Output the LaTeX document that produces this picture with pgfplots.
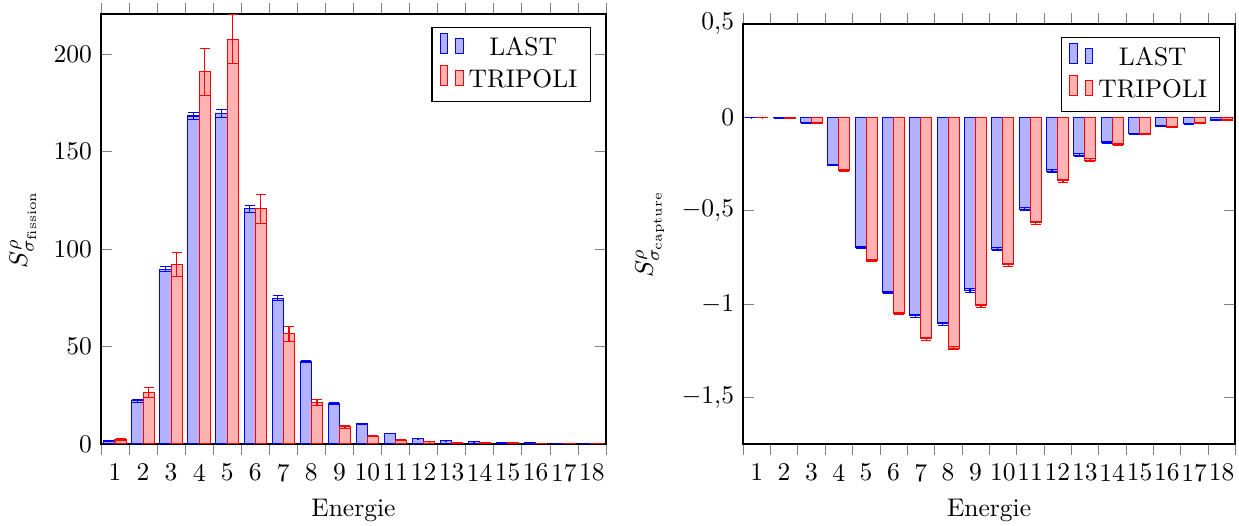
\documentclass[border=0pt]{standalone}
\usepackage{pgfplots}
\pgfplotsset{compat=1.18}
\begin{document}
\begin{tikzpicture}
\pgfplotsset{
  sensbase/.style={
    scale only axis,
    ybar=0pt,
    bar width=0.4,
    xmin=0.5, xmax=18.5,
    xtick={0.5,1.5,...,18.5},
    xticklabels={1,2,3,4,5,6,7,8,9,10,11,12,13,14,15,16,17,18},
    x tick label as interval,
    xtick align=outside,
    tick style={black!50},
    axis line style={line width=0.65pt},
    xlabel={Energie},
    legend cell align=center,
    legend style={at={(0.97,0.97)},anchor=north east},
    /pgf/number format/use comma,
  },
  lastbar/.style={draw=blue, fill=blue!30,
    error bars/.cd, y dir=both, y explicit, error bar style={blue, line width=0.5pt}},
  tripbar/.style={draw=red, fill=red!30,
    error bars/.cd, y dir=both, y explicit, error bar style={red, line width=0.5pt}},
}
\begin{axis}[sensbase,
  width=198pt, height=168.6pt,
  ymin=0, ymax=220.5,
  ytick={0,50,100,150,200},
  ylabel={$S^{\rho}_{\sigma_{\mathrm{fission}}}$},
]
\addplot[lastbar] coordinates {
(1,1.6) +- (0,0.2)
(2,22.1) +- (0,0.9)
(3,89.5) +- (0,1.3)
(4,168.2) +- (0,1.8)
(5,169.4) +- (0,2.0)
(6,120.6) +- (0,1.8)
(7,74.8) +- (0,1.1)
(8,42.3) +- (0,0.6)
(9,20.8) +- (0,0.4)
(10,10.4) +- (0,0.3)
(11,5.4) +- (0,0.2)
(12,2.7) +- (0,0.1)
(13,1.7) +- (0,0.1)
(14,1.2) +- (0,0.05)
(15,0.8) +- (0,0.05)
(16,0.6) +- (0,0.05)
(17,0.4) +- (0,0.05)
(18,0.4) +- (0,0.05)
};
\addplot[tripbar] coordinates {
(1,2.3) +- (0,0.3)
(2,26.2) +- (0,2.6)
(3,92.1) +- (0,6.1)
(4,190.8) +- (0,12.0)
(5,207.5) +- (0,12.6)
(6,120.6) +- (0,7.5)
(7,56.5) +- (0,3.8)
(8,21.3) +- (0,1.5)
(9,8.7) +- (0,0.7)
(10,3.9) +- (0,0.3)
(11,2.0) +- (0,0.2)
(12,1.2) +- (0,0.1)
(13,0.8) +- (0,0.05)
(14,0.6) +- (0,0.05)
(15,0.5) +- (0,0.05)
(16,0.4) +- (0,0.05)
(17,0.3) +- (0,0.05)
(18,0.2) +- (0,0.05)
};
\legend{LAST,TRIPOLI}
\end{axis}
\begin{axis}[sensbase,
  at={(251.8pt,0pt)},
  width=193pt, height=164.7pt,
  ymin=-1.75, ymax=0.5,
  ytick={-1.5,-1,-0.5,0,0.5},
  ylabel={$S^{\rho}_{\sigma_{\mathrm{capture}}}$},
]
\addplot[lastbar] coordinates {
(1,-0.002) +- (0,0.001)
(2,-0.003) +- (0,0.001)
(3,-0.030) +- (0,0.002)
(4,-0.256) +- (0,0.004)
(5,-0.699) +- (0,0.005)
(6,-0.937) +- (0,0.006)
(7,-1.062) +- (0,0.008)
(8,-1.106) +- (0,0.009)
(9,-0.928) +- (0,0.009)
(10,-0.706) +- (0,0.009)
(11,-0.492) +- (0,0.008)
(12,-0.288) +- (0,0.007)
(13,-0.203) +- (0,0.007)
(14,-0.134) +- (0,0.005)
(15,-0.089) +- (0,0.004)
(16,-0.048) +- (0,0.003)
(17,-0.034) +- (0,0.002)
(18,-0.016) +- (0,0.002)
};
\addplot[tripbar] coordinates {
(1,-0.002) +- (0,0.001)
(2,-0.005) +- (0,0.001)
(3,-0.031) +- (0,0.002)
(4,-0.284) +- (0,0.004)
(5,-0.768) +- (0,0.005)
(6,-1.051) +- (0,0.006)
(7,-1.187) +- (0,0.007)
(8,-1.238) +- (0,0.008)
(9,-1.010) +- (0,0.008)
(10,-0.790) +- (0,0.008)
(11,-0.565) +- (0,0.008)
(12,-0.340) +- (0,0.007)
(13,-0.230) +- (0,0.007)
(14,-0.148) +- (0,0.005)
(15,-0.090) +- (0,0.004)
(16,-0.053) +- (0,0.003)
(17,-0.031) +- (0,0.002)
(18,-0.016) +- (0,0.002)
};
\legend{LAST,TRIPOLI}
\end{axis}
\pgfresetboundingbox
\path[use as bounding box] (-39.6pt,-31.8pt) rectangle (446.3pt,174.1pt);
\end{tikzpicture}
\end{document}
